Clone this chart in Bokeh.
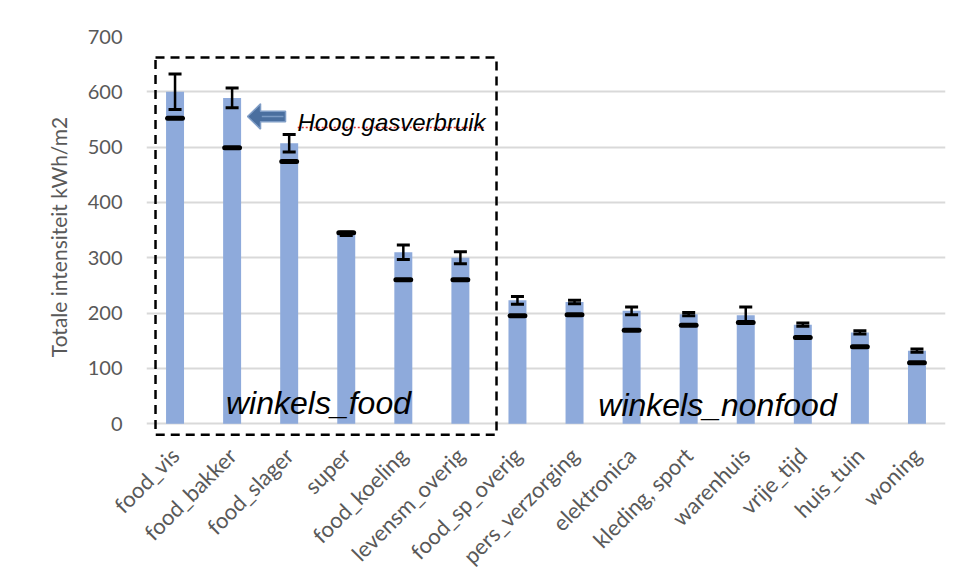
import numpy as np
from bokeh.plotting import figure
from bokeh.models import ColumnDataSource, FixedTicker, Whisker, TeeHead, BoxAnnotation, Label, Range1d
from bokeh.core.properties import value
from bokeh.embed import file_html
from bokeh.resources import INLINE

# ---- data ----
categories = ["food_vis", "food_bakker", "food_slager", "super", "food_koeling",
              "levensm_overig", "food_sp_overig", "pers_verzorging", "elektronica",
              "kleding, sport", "warenhuis", "vrije_tijd", "huis_tuin", "woning"]
totale_intensiteit = [600, 589, 507, 343, 310, 300, 223, 220, 204, 198, 196, 179, 165, 132]
foutmarge = [32, 18, 16, 3, 13, 11, 7, 3, 7, 3, 15, 3, 3, 3]
referentie = [552, 499, 474, 345, 260, 260, 195, 197, 169, 178, 183, 156, 139, 110]
y_ticks = [0, 100, 200, 300, 400, 500, 600, 700]

xs = list(range(len(categories)))
src = ColumnDataSource(dict(
    x=xs,
    top=totale_intensiteit,
    upper=[v + e for v, e in zip(totale_intensiteit, foutmarge)],
    lower=[v - e for v, e in zip(totale_intensiteit, foutmarge)],
    ref=referentie,
    x0=[x - 0.13 for x in xs],
    x1=[x + 0.13 for x in xs],
))

p = figure(frame_width=799, frame_height=401, output_backend="svg", toolbar_location=None,
           x_range=Range1d(-0.5, len(categories) - 0.5), y_range=Range1d(-25, 700),
           min_border_left=146, min_border_right=10, min_border_top=36, min_border_bottom=130)
p.outline_line_color = None
p.background_fill_color = "white"
p.border_fill_color = "white"

# bars
p.vbar(x="x", top="top", bottom=0, width=0.315, source=src,
       fill_color="#8eaadb", line_color=None)

# error bars
w = Whisker(base="x", upper="upper", lower="lower", source=src,
            line_color="black", line_width=2.5, level="overlay",
            upper_head=TeeHead(size=13, line_width=3, line_color="black"),
            lower_head=TeeHead(size=13, line_width=3, line_color="black"))
p.add_layout(w)

# reference markers
p.segment(x0="x0", y0="ref", x1="x1", y1="ref", source=src,
          line_color="black", line_width=5, line_cap="round")

# axes
p.xaxis.ticker = FixedTicker(ticks=xs)
p.xaxis.major_label_overrides = {i: c for i, c in enumerate(categories)}
p.xaxis.major_label_orientation = np.pi / 4
p.xaxis.axis_line_color = None
p.xaxis.major_tick_line_color = None
p.xaxis.minor_tick_line_color = None
p.xaxis.major_label_standoff = 8
p.xaxis.major_label_text_font = "Lato"
p.xaxis.major_label_text_font_size = "22px"
p.xaxis.major_label_text_color = "#595959"

p.yaxis.ticker = FixedTicker(ticks=y_ticks)
p.yaxis.axis_line_color = None
p.yaxis.major_tick_line_color = None
p.yaxis.minor_tick_line_color = None
p.yaxis.major_label_standoff = 18
p.yaxis.major_label_text_font = "Lato"
p.yaxis.major_label_text_font_size = "20px"
p.yaxis.major_label_text_color = "#595959"
p.yaxis.axis_label = "Totale intensiteit kWh/m2"
p.yaxis.axis_label_text_font = "Lato"
p.yaxis.axis_label_text_font_style = "normal"
p.yaxis.axis_label_text_font_size = "21px"
p.yaxis.axis_label_text_color = "#595959"
p.yaxis.axis_label_standoff = 14

p.xgrid.grid_line_color = None
p.ygrid.grid_line_color = "#d9d9d9"
p.ygrid.grid_line_width = 2

# dashed group box
box = BoxAnnotation(left=-0.342, right=5.633, bottom=-20, top=662,
                    fill_alpha=0, line_color="black", line_alpha=1.0, line_width=2.5,
                    line_dash="9 6", level="overlay")
p.add_layout(box)

# arrow
ax = [1.270, 1.498, 1.498, 1.936, 1.936, 1.498, 1.498]
ay = [555.4, 578.2, 565.0, 565.0, 545.8, 545.8, 532.6]
p.patch(ax, ay, fill_color="#4a6f9f", line_color="#7f9dc6", line_width=1.5)
p.line([1.52, 1.90], [555.4, 555.4], line_color="#7a9ac4", line_width=1.5)

# labels
p.add_layout(Label(x=2.146, y=545, text="Hoog gasverbruik", text_font="Liberation Sans",
                   text_font_style="italic", text_font_size="24px", text_color="black",
                   text_baseline="alphabetic"))
p.line([2.15, 5.44], [535.5, 535.5], line_color="#e03030", line_width=1.3, line_dash="2 2")
p.add_layout(Label(x=2.514, y=36.5, text="winkels_food", text_font="Liberation Sans",
                   text_font_style="italic", text_font_size="32px", text_color="black",
                   text_align="center", text_baseline="alphabetic"))
p.add_layout(Label(x=9.505, y=33, text="winkels_nonfood", text_font="Liberation Sans",
                   text_font_style="italic", text_font_size="32px", text_color="black",
                   text_align="center", text_baseline="alphabetic"))

open("out.html", "w").write(file_html(p, INLINE))
